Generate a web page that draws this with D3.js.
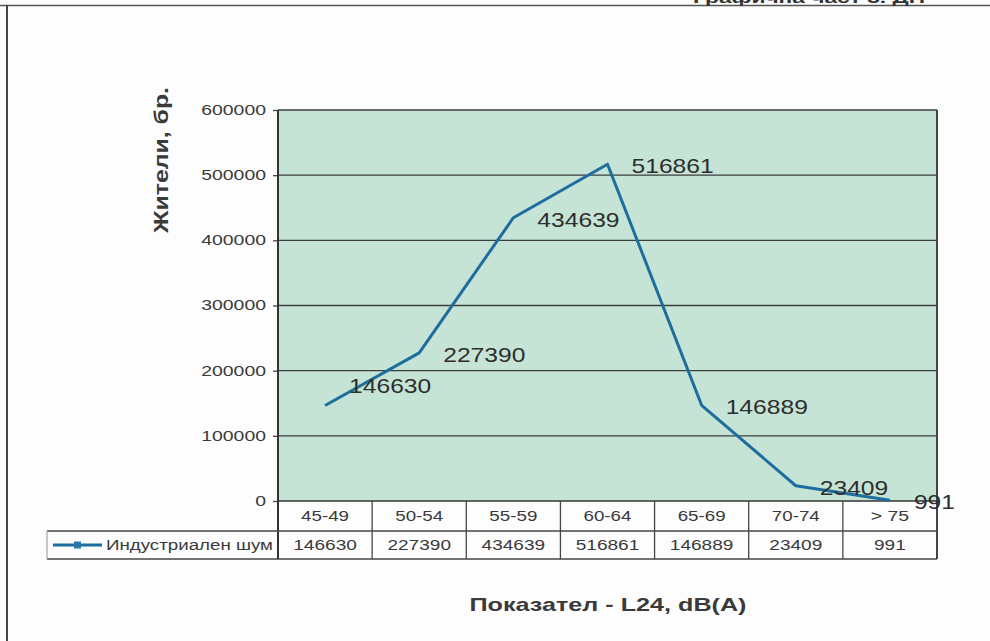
<!DOCTYPE html>
<html>
<head>
<meta charset="utf-8">
<script src="https://cdn.jsdelivr.net/npm/d3@7"></script>
<style>
  html, body { margin: 0; padding: 0; background: #fdfdfd; }
  svg { display: block; font-family: "Liberation Sans", Arial, sans-serif; }
</style>
</head>
<body>
<svg id="chart" width="990" height="641"></svg>
<script>
// ---- data ----
const categories = ["45-49", "50-54", "55-59", "60-64", "65-69", "70-74", "> 75"];
const seriesName = "Индустриален шум";
const values = [146630, 227390, 434639, 516861, 146889, 23409, 991];
const yTicks = [0, 100000, 200000, 300000, 400000, 500000, 600000];
const yTitle = "Жители, бр.";
const xTitle = "Показател - L24, dB(A)";
const headerText = "Графична част 3. ДП";

// ---- layout ----
const svg = d3.select("#chart");
const plot = { left: 278, right: 937, top: 110, bottom: 501 };
const row1Bottom = 531, row2Bottom = 559, legendLeft = 47;
const ink = "#333";
const gridColor = "#3c3c3c";
const lineColor = "#1d6e9e";
const plotBg = "#c6e4d6";

const x = d3.scaleBand().domain(categories).range([plot.left, plot.right]);
const y = d3.scaleLinear().domain([0, 600000]).range([plot.bottom, plot.top]);

// header / page frame
svg.append("line").attr("x1", 0).attr("x2", 990).attr("y1", 5.5).attr("y2", 5.5)
  .attr("stroke", "#555").attr("stroke-width", 1.5);
svg.append("line").attr("x1", 7).attr("x2", 7).attr("y1", 5).attr("y2", 641)
  .attr("stroke", "#444").attr("stroke-width", 2);
svg.append("text").attr("x", 693).attr("y", 3).attr("font-size", 15).attr("font-weight", "bold")
  .attr("fill", ink).attr("textLength", 232).attr("lengthAdjust", "spacingAndGlyphs").text(headerText);

// plot background
svg.append("rect").attr("x", plot.left).attr("y", plot.top)
  .attr("width", plot.right - plot.left).attr("height", plot.bottom - plot.top)
  .attr("fill", plotBg);

// gridlines
svg.append("g").selectAll("line").data(yTicks.filter(d => d > 0)).join("line")
  .attr("x1", plot.left).attr("x2", plot.right)
  .attr("y1", d => y(d)).attr("y2", d => y(d))
  .attr("stroke", gridColor).attr("stroke-width", 1.4);

// plot right border
svg.append("line").attr("x1", plot.right).attr("x2", plot.right)
  .attr("y1", plot.top).attr("y2", row2Bottom).attr("stroke", "#444").attr("stroke-width", 2);

// y axis
const yAxis = svg.append("g").attr("transform", `translate(${plot.left},0)`)
  .call(d3.axisLeft(y).tickValues(yTicks).tickSize(5).tickPadding(7).tickFormat(d => String(d)));
yAxis.select(".domain").remove();
yAxis.selectAll(".tick line").attr("stroke", "#444").attr("stroke-width", 1.3);
yAxis.selectAll(".tick text").attr("font-size", 14).attr("fill", "#3a3a3a")
  .attr("font-family", "'Liberation Sans', Arial, sans-serif")
  .attr("textLength", d => String(d).length * 10.8).attr("lengthAdjust", "spacingAndGlyphs");
svg.append("line").attr("x1", plot.left).attr("x2", plot.left)
  .attr("y1", plot.top).attr("y2", row2Bottom).attr("stroke", "#333").attr("stroke-width", 2);

// data table
const table = svg.append("g");
table.append("line").attr("x1", plot.left).attr("x2", plot.right)
  .attr("y1", plot.bottom).attr("y2", plot.bottom).attr("stroke", "#333").attr("stroke-width", 1.6);
table.append("line").attr("x1", legendLeft).attr("x2", plot.right)
  .attr("y1", row1Bottom).attr("y2", row1Bottom).attr("stroke", "#444").attr("stroke-width", 1.3);
table.append("line").attr("x1", legendLeft).attr("x2", plot.right)
  .attr("y1", row2Bottom).attr("y2", row2Bottom).attr("stroke", "#444").attr("stroke-width", 1.3);
table.append("line").attr("x1", legendLeft).attr("x2", legendLeft)
  .attr("y1", row1Bottom).attr("y2", row2Bottom).attr("stroke", "#aaa").attr("stroke-width", 1.3);
table.selectAll("line.sep").data(categories.slice(1)).join("line").attr("class", "sep")
  .attr("x1", d => x(d)).attr("x2", d => x(d))
  .attr("y1", plot.bottom).attr("y2", row2Bottom).attr("stroke", "#444").attr("stroke-width", 1.3);

table.selectAll("text.cat").data(categories).join("text").attr("class", "cat")
  .attr("x", d => x(d) + x.bandwidth() / 2).attr("y", (plot.bottom + row1Bottom) / 2 + 5)
  .attr("text-anchor", "middle").attr("font-size", 14).attr("fill", "#3a3a3a")
  .attr("textLength", d => d.length * 9.6).attr("lengthAdjust", "spacingAndGlyphs")
  .text(d => d);
table.selectAll("text.val").data(values).join("text").attr("class", "val")
  .attr("x", (d, i) => x(categories[i]) + x.bandwidth() / 2).attr("y", (row1Bottom + row2Bottom) / 2 + 5)
  .attr("text-anchor", "middle").attr("font-size", 14).attr("fill", "#3a3a3a")
  .attr("textLength", d => String(d).length * 10.6).attr("lengthAdjust", "spacingAndGlyphs")
  .text(d => d);

// legend key in table
const legY = (row1Bottom + row2Bottom) / 2;
table.append("line").attr("x1", 53).attr("x2", 102).attr("y1", legY).attr("y2", legY)
  .attr("stroke", lineColor).attr("stroke-width", 3);
table.append("rect").attr("x", 74).attr("y", legY - 3.5).attr("width", 7).attr("height", 7)
  .attr("fill", "#2a7aa8");
table.append("text").attr("x", 106).attr("y", legY + 5).attr("font-size", 14).attr("fill", "#3a3a3a")
  .attr("textLength", 167).attr("lengthAdjust", "spacingAndGlyphs").text(seriesName);

// series line
const line = d3.line()
  .x((d, i) => x(categories[i]) + x.bandwidth() / 2)
  .y(d => y(d));
svg.append("path").datum(values).attr("d", line)
  .attr("fill", "none").attr("stroke", lineColor).attr("stroke-width", 3)
  .attr("stroke-linejoin", "round");

// data labels
const labelNudge = { 0: -21 };
svg.append("g").selectAll("text").data(values).join("text")
  .attr("x", (d, i) => x(categories[i]) + x.bandwidth() / 2 + 24)
  .attr("y", (d, i) => y(d) + 9 + (labelNudge[i] || 0))
  .attr("font-size", 21).attr("fill", "#2e2e2e")
  .attr("textLength", d => String(d).length * 13.7).attr("lengthAdjust", "spacingAndGlyphs")
  .text(d => d);

// axis titles
svg.append("text").attr("transform", "translate(168,160) rotate(-90)")
  .attr("text-anchor", "middle").attr("font-size", 21).attr("font-weight", "bold").attr("fill", "#3a3a3a")
  .attr("textLength", 146).attr("lengthAdjust", "spacingAndGlyphs").text(yTitle);
svg.append("text").attr("x", 608).attr("y", 611)
  .attr("text-anchor", "middle").attr("font-size", 19).attr("font-weight", "bold").attr("fill", "#3a3a3a")
  .attr("textLength", 277).attr("lengthAdjust", "spacingAndGlyphs").text(xTitle);
</script>
</body>
</html>
